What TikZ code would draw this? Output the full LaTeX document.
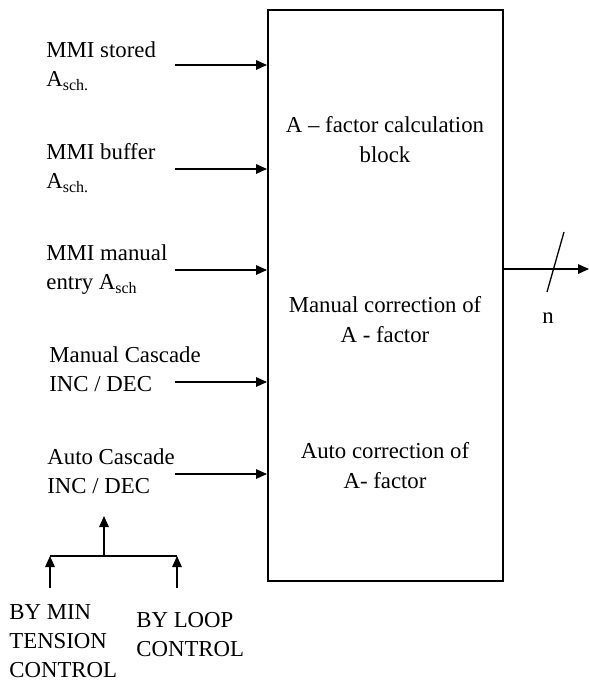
\documentclass[tikz,border=0pt]{standalone}
\usepackage{fontspec}
\setmainfont{Liberation Serif}
\usetikzlibrary{arrows.meta}

\tikzset{
    lbl/.style={anchor=west, align=left, inner sep=0pt, font=\fontsize{11.4}{14.5}\selectfont},
    blktxt/.style={align=center, inner sep=0pt, font=\fontsize{11.4}{15}\selectfont},
    sig/.style={line width=0.65pt, -{Triangle[length=5.5pt,width=4.8pt]}},
}

\begin{document}
\begin{tikzpicture}[x=0.5pt, y=-0.5pt]
    \useasboundingbox (0,0) rectangle (589,681);

    % Calculation block
    \node[draw, line width=1pt, minimum width=117.5pt, minimum height=285.5pt, inner sep=0pt] (blk) at (385.5,295.5) {};
    \node[blktxt] (calc) at (385,140) {A -- factor calculation\\block};
    \node[blktxt] (mancor) at (385,320) {Manual correction of\\A - factor};
    \node[blktxt] (autocor) at (385,466) {Auto correction of\\A- factor};

    % Inputs
    \node[lbl] (stored) at (46,66) {MMI stored\\A\textsubscript{sch.}};
    \node[lbl] (buffer) at (46,168) {MMI buffer\\A\textsubscript{sch.}};
    \node[lbl] (entry) at (46,270) {MMI manual\\entry A\textsubscript{sch}};
    \node[lbl] (mancas) at (49,369) {Manual Cascade\\INC / DEC};
    \node[lbl] (autocas) at (47,471) {Auto Cascade\\INC / DEC};

    \coordinate (in1) at (175,65);
    \coordinate (in2) at (175,169);
    \coordinate (in3) at (175,270);
    \coordinate (in4) at (175,382);
    \coordinate (in5) at (175,474);
    \foreach \i in {1,...,5}
        \draw[sig] (in\i) -- (in\i -| blk.west);

    % Output
    \coordinate (out) at (589,269);
    \draw[sig] (out -| blk.east) -- (out);
    \draw[line width=0.65pt] (547,292) -- (564,232);
    \node[blktxt] (nbits) at (548,318) {n};

    % Auto cascade sources
    \node[lbl] (mintens) at (9,641) {BY MIN\\TENSION\\CONTROL};
    \node[lbl] (loopctl) at (136,635) {BY LOOP\\CONTROL};

    \coordinate (join) at (104,556);
    \coordinate (tip) at (104,516);
    \coordinate (jl) at (50,556);
    \coordinate (jr) at (177,556);
    \coordinate (sl) at (50,588);
    \coordinate (sr) at (177,588);
    \draw[line width=0.65pt] (jl) -- (jr);
    \draw[sig] (join) -- (tip);
    \draw[sig] (sl) -- (jl);
    \draw[sig] (sr) -- (jr);
\end{tikzpicture}
\end{document}
